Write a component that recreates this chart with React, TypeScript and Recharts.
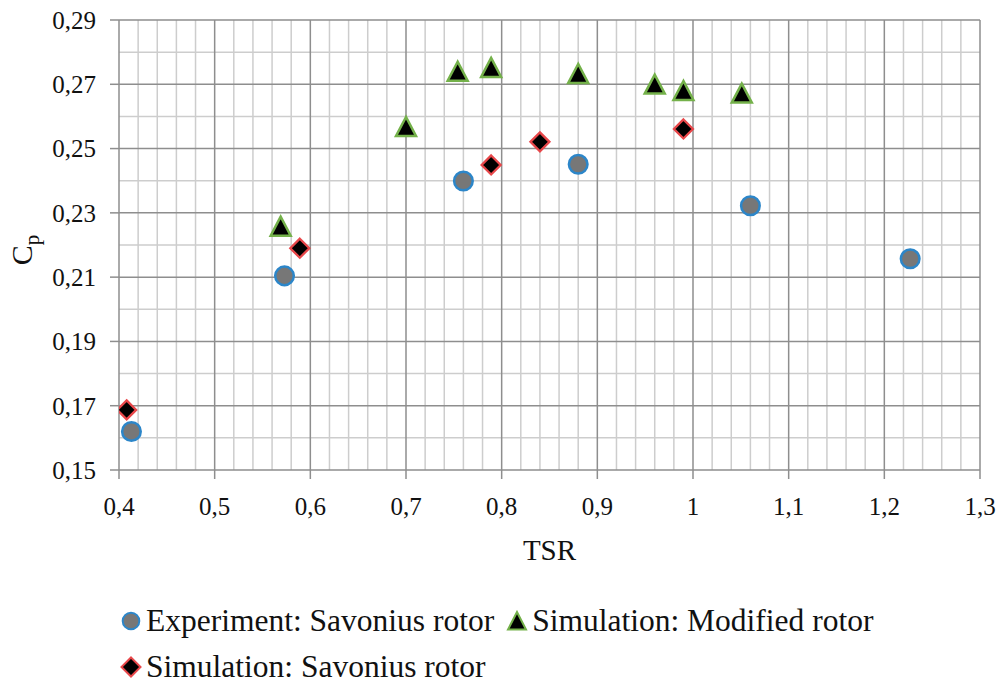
import React from 'react';
import { ScatterChart, Scatter, XAxis, YAxis, ReferenceLine, Legend } from 'recharts';

// values
const experimentTsr = [0.413, 0.573, 0.76, 0.88, 1.06, 1.227];
const experimentCp = [0.162, 0.2104, 0.2399, 0.2451, 0.2322, 0.2157];

const modifiedTsr = [0.569, 0.7, 0.754, 0.789, 0.88, 0.96, 0.99, 1.051];
const modifiedCp = [0.2257, 0.2567, 0.2739, 0.2751, 0.2732, 0.2699, 0.2679, 0.2671];

const savoniusTsr = [0.408, 0.589, 0.789, 0.84, 0.99];
const savoniusCp = [0.1687, 0.219, 0.2449, 0.2521, 0.2561];

const xTicks = [0.4, 0.5, 0.6, 0.7, 0.8, 0.9, 1.0, 1.1, 1.2, 1.3];
const yTicks = [0.15, 0.17, 0.19, 0.21, 0.23, 0.25, 0.27, 0.29];
const xMinor = [
  0.42, 0.44, 0.46, 0.48, 0.52, 0.54, 0.56, 0.58, 0.62, 0.64, 0.66, 0.68,
  0.72, 0.74, 0.76, 0.78, 0.82, 0.84, 0.86, 0.88, 0.92, 0.94, 0.96, 0.98,
  1.02, 1.04, 1.06, 1.08, 1.12, 1.14, 1.16, 1.18, 1.22, 1.24, 1.26, 1.28,
];
const yMinor = [0.16, 0.18, 0.2, 0.22, 0.24, 0.26, 0.28];

const seriesNames = [
  'Experiment: Savonius rotor',
  'Simulation: Modified rotor',
  'Simulation: Savonius rotor',
];

const toPoints = (xs: number[], ys: number[]) => xs.map((x, i) => ({ x, y: ys[i] }));
const experimentData = toPoints(experimentTsr, experimentCp);
const modifiedData = toPoints(modifiedTsr, modifiedCp);
const savoniusData = toPoints(savoniusTsr, savoniusCp);

const FONT = 'Liberation Serif';
const MAJOR = '#8e8e8e';
const MINOR = '#cdcdcd';

const CIRCLE_FILL = '#777777';
const CIRCLE_STROKE = '#2c86c9';
const TRI_STROKE = '#74b14a';
const DIA_STROKE = '#e8474a';

const fmtX = (v: number) => String(Math.round(v * 10) / 10).replace('.', ',');
const fmtY = (v: number) => v.toFixed(2).replace('.', ',');

const CircleMark = (p: any) => (
  <circle cx={p.cx} cy={p.cy} r={9.3} fill={CIRCLE_FILL} stroke={CIRCLE_STROKE} strokeWidth={2.5} />
);

const TriangleMark = (p: any) => {
  const { cx, cy } = p;
  return (
    <polygon
      points={`${cx},${cy - 10} ${cx - 10},${cy + 9} ${cx + 10},${cy + 9}`}
      fill="#000"
      stroke={TRI_STROKE}
      strokeWidth={2.5}
    />
  );
};

const DiamondMark = (p: any) => {
  const { cx, cy } = p;
  return (
    <polygon
      points={`${cx},${cy - 9.5} ${cx + 9.5},${cy} ${cx},${cy + 9.5} ${cx - 9.5},${cy}`}
      fill="#000"
      stroke={DIA_STROKE}
      strokeWidth={2.3}
    />
  );
};

const XTitle = (props: any) => {
  const vb = props.viewBox || { x: 0, y: 0, width: 0, height: 0 };
  return (
    <text x={vb.x + vb.width / 2} y={vb.y + 90} textAnchor="middle" style={{ fontFamily: FONT }} fontSize={29} fill="#111">
      TSR
    </text>
  );
};

const YTitle = (props: any) => {
  const vb = props.viewBox || { x: 0, y: 0, width: 0, height: 0 };
  const cx = vb.x + 32;
  const cy = vb.y + vb.height / 2 + 5;
  return (
    <text
      x={cx}
      y={cy}
      transform={`rotate(-90, ${cx}, ${cy})`}
      textAnchor="middle"
      style={{ fontFamily: FONT }}
      fontSize={30}
      fill="#111"
    >
      C
      <tspan fontSize={21} dy={7}>p</tspan>
    </text>
  );
};

const LegendIcon = ({ kind }: { kind: number }) => (
  <svg width={22} height={22} style={{ display: 'block' }}>
    {kind === 0 && <circle cx={11} cy={11} r={8.3} fill={CIRCLE_FILL} stroke={CIRCLE_STROKE} strokeWidth={2} />}
    {kind === 1 && <polygon points="11,2 2,19.5 20,19.5" fill="#000" stroke={TRI_STROKE} strokeWidth={2} />}
    {kind === 2 && <polygon points="11,1.5 20.5,11 11,20.5 1.5,11" fill="#000" stroke={DIA_STROKE} strokeWidth={2} />}
  </svg>
);

const LegendItem = ({ kind, gap }: { kind: number; gap: number }) => (
  <div style={{ display: 'flex', alignItems: 'center', marginRight: gap }}>
    <LegendIcon kind={kind} />
    <span style={{ marginLeft: 4 }}>{seriesNames[kind]}</span>
  </div>
);

const ChartLegend = () => (
  <div style={{ fontFamily: FONT, fontSize: 31.5, color: '#111', lineHeight: '46px', paddingLeft: 120 }}>
    <div style={{ display: 'flex', alignItems: 'center', height: 46 }}>
      <LegendItem kind={0} gap={12} />
      <LegendItem kind={1} gap={0} />
    </div>
    <div style={{ display: 'flex', alignItems: 'center', height: 46 }}>
      <LegendItem kind={2} gap={0} />
    </div>
  </div>
);

export default function App() {
  return (
    <div style={{ position: 'absolute', left: 0, top: 0, width: 1000, height: 687, background: '#fff', fontFamily: FONT }}>
      <ScatterChart width={1000} height={687} margin={{ top: 20, right: 20, left: 0, bottom: 117 }} style={{ fontFamily: FONT }}>
        {xMinor.map((v) => (
          <ReferenceLine key={`xm${v}`} x={v} stroke={MINOR} strokeWidth={1.5} />
        ))}
        {yMinor.map((v) => (
          <ReferenceLine key={`ym${v}`} y={v} stroke={MINOR} strokeWidth={1.5} />
        ))}
        {xTicks.slice(1).map((v) => (
          <ReferenceLine key={`xM${v}`} x={v} stroke={MAJOR} strokeWidth={1.5} />
        ))}
        {yTicks.slice(1).map((v) => (
          <ReferenceLine key={`yM${v}`} y={v} stroke={MAJOR} strokeWidth={1.5} />
        ))}
        <XAxis
          type="number"
          dataKey="x"
          domain={[0.4, 1.3]}
          ticks={xTicks}
          tickFormatter={fmtX}
          allowDataOverflow
          height={100}
          stroke={MAJOR}
          strokeWidth={1.5}
          tickSize={9}
          tickMargin={18}
          tick={{ fill: '#111', fontSize: 25, fontFamily: FONT }}
          label={<XTitle />}
        />
        <YAxis
          type="number"
          dataKey="y"
          domain={[0.15, 0.29]}
          ticks={yTicks}
          tickFormatter={fmtY}
          allowDataOverflow
          width={119}
          stroke={MAJOR}
          strokeWidth={1.5}
          tickSize={9}
          tickMargin={14}
          tick={{ fill: '#111', fontSize: 25, fontFamily: FONT }}
          label={<YTitle />}
        />
        <Scatter name={seriesNames[0]} data={experimentData} shape={CircleMark} isAnimationActive={false} />
        <Scatter name={seriesNames[1]} data={modifiedData} shape={TriangleMark} isAnimationActive={false} />
        <Scatter name={seriesNames[2]} data={savoniusData} shape={DiamondMark} isAnimationActive={false} />
        <Legend
          layout="horizontal"
          verticalAlign="middle"
          align="center"
          content={<ChartLegend />}
          wrapperStyle={{ top: 598, left: 0, width: 1000 }}
        />
      </ScatterChart>
    </div>
  );
}
